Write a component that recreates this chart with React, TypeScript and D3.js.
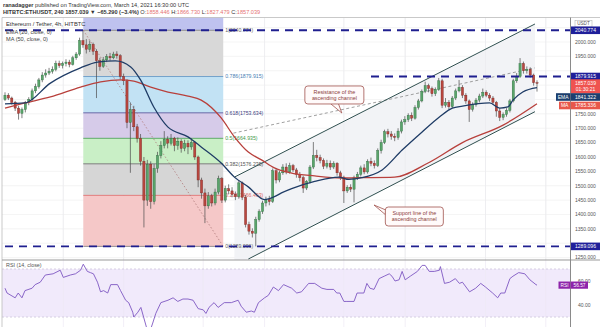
import React from 'react';
import * as d3 from 'd3';

const opens = [
1800,1815,1805,1790,1770,1752,1765,1790,1800,1830,
1845,1868,1885,1892,1898,1905,1925,1918,1925,1930,
1922,1945,1958,2005,1990,1975,1992,1968,1935,1915,
1938,1950,1945,1958,1952,1880,1865,1720,1765,1705,
1665,1585,1450,1575,1445,1560,1605,1640,1662,1648,
1665,1640,1655,1630,1648,1635,1650,1600,1520,1475,
1430,1465,1440,1478,1525,1450,1490,1482,1470,1462,
1510,1460,1365,1342,1335,1382,1410,1440,1452,1445,
1552,1520,1545,1565,1548,1570,1555,1540,1528,1492,
1515,1565,1605,1598,1588,1568,1578,1565,1578,1545,
1530,1482,1495,1488,1528,1540,1562,1548,1585,1578,
1570,1622,1650,1688,1680,1672,1668,1690,1722,1730,
1745,1735,1772,1795,1828,1848,1838,1820,1835,1865,
1780,1790,1775,1805,1830,1842,1815,1795,1765,1782,
1798,1812,1825,1815,1805,1790,1760,1738,1748,1762,
1795,1865,1880,1925,1900,1905,1885,1858.446];
const closes = [
1815,1805,1790,1770,1752,1765,1790,1800,1830,1845,
1868,1885,1892,1898,1905,1925,1918,1925,1930,1922,
1945,1958,2005,1990,1975,1992,1968,1935,1915,1938,
1950,1945,1958,1952,1880,1865,1720,1765,1705,1665,
1585,1450,1575,1445,1560,1605,1640,1662,1648,1665,
1640,1655,1630,1648,1635,1650,1600,1520,1475,1430,
1465,1440,1478,1525,1450,1490,1482,1470,1462,1510,
1460,1365,1342,1335,1382,1410,1440,1452,1445,1552,
1520,1545,1565,1548,1570,1555,1540,1528,1492,1515,
1565,1605,1598,1588,1568,1578,1565,1578,1545,1530,
1482,1495,1488,1528,1540,1562,1548,1585,1578,1570,
1622,1650,1688,1680,1672,1668,1690,1722,1730,1745,
1735,1772,1795,1828,1848,1838,1820,1835,1865,1780,
1790,1775,1805,1830,1842,1815,1795,1765,1782,1798,
1812,1825,1815,1805,1790,1760,1738,1748,1762,1795,
1865,1880,1925,1900,1905,1885,1858.446,1857.039];
const highs = [
1825,1822,1810,1795,1778,1772,1795,1808,1838,1855,
1875,1895,1905,1910,1915,1935,1935,1932,1940,1938,
1952,1965,2015,2040.774,2010,2005,1998,1975,1945,1948,
1958,1962,1966,1968,1958,1890,1870,1790,1778,1715,
1680,1600,1590,1585,1575,1618,1655,1690,1672,1680,
1670,1668,1662,1660,1658,1665,1655,1605,1528,1490,
1478,1472,1490,1535,1530,1500,1505,1495,1480,1520,
1515,1468,1375,1352,1392,1418,1448,1462,1465,1560,
1562,1552,1575,1578,1580,1576,1562,1548,1535,1520,
1572,1652,1625,1608,1595,1590,1588,1585,1582,1552,
1535,1502,1505,1535,1548,1570,1575,1592,1598,1588,
1630,1660,1695,1698,1690,1682,1700,1730,1742,1752,
1755,1780,1802,1835,1862,1855,1845,1842,1875,1872,
1805,1798,1812,1838,1868,1850,1822,1800,1790,1805,
1820,1838,1832,1822,1812,1795,1770,1755,1770,1802,
1872,1892,1944,1932,1915,1912,1890,1866.73];
const lows = [
1795,1798,1782,1760,1730,1735,1755,1780,1792,1822,
1838,1860,1876,1885,1890,1898,1910,1908,1915,1912,
1918,1938,1952,1980,1960,1965,1955,1805,1900,1910,
1930,1935,1940,1942,1870,1850,1700,1545,1690,1650,
1570,1355,1430,1420,1435,1545,1595,1630,1630,1640,
1620,1625,1615,1620,1610,1625,1590,1495,1455,1370,
1420,1428,1432,1470,1440,1442,1470,1460,1450,1455,
1450,1355,1330,1320,1289.096,1375,1402,1428,1432,1440,
1508,1512,1538,1540,1542,1548,1528,1515,1475,1485,
1508,1558,1585,1578,1558,1560,1555,1558,1535,1520,
1440,1475,1478,1442,1520,1532,1540,1542,1568,1560,
1565,1612,1645,1668,1660,1655,1660,1682,1712,1722,
1725,1730,1765,1790,1822,1825,1810,1812,1830,1770,
1772,1765,1770,1798,1825,1805,1785,1722,1758,1775,
1790,1805,1808,1795,1782,1740,1725,1728,1740,1755,
1790,1858,1875,1890,1890,1876,1848,1827.479];

const emaIdx = [0,5.9,13.4,22.3,27.3,32.6,37.1,40,43.9,48.1,54,57.9,63.8,67.7,71.8,76.6,79.5,81.6,84.6,91.4,98.5,101.5,105.3,111.3,117.2,123.1,128.2,132,135,143,146,148.4,149.9,152.8,157];
const emaVal = [1785,1788,1857,1910,1930,1934,1913,1868,1774,1704,1670,1635,1579,1530,1496,1452,1462,1475,1490,1515,1530,1522,1528,1555,1624,1687,1739,1770,1777,1788,1770,1774,1798,1826,1841.322];
const maIdx = [0,5.9,13.4,22.3,28.2,34.1,38,43,48.1,54,57.9,63.8,67.7,71.8,75.7,79.5,84.6,91.4,99.4,105.3,115,125,135,147,157];
const maVal = [1770,1788,1809,1843,1861,1868,1864,1843,1826,1812,1798,1736,1670,1617,1590,1562,1544,1534,1527,1528,1530,1580,1650,1711,1785.336];

const rsiIdx = [0,0.6,3,3.9,5,5.9,8,8.9,10.4,11.9,14.2,16.3,17.2,19.3,20.8,22.3,23.1,24.3,25.2,26.1,27.3,28.2,29.1,30.3,31.2,33.2,34.1,35.6,36.5,37.7,38,39.2,40.1,40.9,42.4,43.6,44.5,46,48.1,49.6,51,52.5,54,55.5,57,58.5,59.3,60.2,61.7,62.9,64.7,66.8,68.8,69.7,71.2,72.7,73.6,74.8,76.6,77.7,79.2,80.7,82.2,84.6,86.1,87.5,89.6,91.4,93.5,95,97,97.9,98.8,100,100.9,103,103.9,105.9,106.8,107.7,108.9,110.4,111.9,113.4,114.2,115.1,116.3,117.2,118.1,119.6,121.7,123.1,124,125.2,126.7,128.2,128.5,129.7,131.2,132.9,134.1,135,137.1,138.9,140.4,141.8,143.9,145.4,146.3,147.5,149,149.9,151.6,153.4,154.9,156.7,157];
const rsiVal = [54,50,46,50,46,52,54,57,59,65,66,69,63,65,66,69,74,68,67,66,59,51,52,50,57,57,52,44,42,34,30,34,38,30,15,25,33,42,44,46,43,45,45,44,37,36,33,38,42,38,42,42,44,39,34,35,34,42,46,48,55,52,57,54,50,51,58,58,54,53,53,50,50,43,43,43,50,50,58,54,53,62,64,66,64,60,61,68,61,64,68,73,73,68,68,69,72,58,59,62,58,59,51,54,58,55,50,46,50,50,62,64,67,66,61,57,56.57];

const priceTicks = [2000,1950,1750,1700,1650,1600,1550,1500,1450,1400,1350,1250];
const gridPrices = [1250,1300,1350,1400,1450,1500,1550,1600,1650,1700,1750,1800,1850,1900,1950,2000,2050];
const timeGridIdx = [17.2,35,58.5,76.6,100,118.1,141.8,159.6];
const fibRatios = ['1','0.786','0.618','0.5','0.382','0.236','0'];
const fibValues = [2040.774,1879.915,1753.634,1664.935,1576.235,1466.493,1289.096];
const fibTop = 2505.3;
const fibStartIdx = 23.1, fibEndIdx = 64.4;
const channelUpper = [[67.7,1530],[156.4,2062.6]];
const channelLower = [[71.8,1245],[156.4,1757.6]];
const channelMid = [[67.4,1683],[156.4,1910]];
const rsiTicks = [60,40];

const FONT = 'Liberation Sans, Arial, sans-serif';

export default function App() {
  const N = opens.length;
  const x = d3.scaleLinear().domain([0, N - 1]).range([5, 537]);
  const y = d3.scaleLinear().domain([1241.7, 2085.2]).range([260, 17.5]);
  const yr = d3.scaleLinear().domain([21.7, 77.5]).range([327, 260]);
  const L = 2, R = 570.5, T = 17.5, B = 260;

  const lineOf = (idx: number[], vals: number[], ys: any) =>
    d3.line<number>().x((_, k) => x(idx[k])).y(d => ys(d)).curve(d3.curveMonotoneX)(vals) || '';

  const fibZoneColors = ['#bfc2ef', '#d8d8d8', '#c2e2f4', '#d6cbe9', '#c9efc6', '#d6d6d6', '#f5c8c8'];
  const fibLineColors = ['#777', '#5b8fc0', '#4b4b95', '#3f9a4a', '#666', '#d66', '#777'];
  const fibLabelColors = ['#666', '#4a7fb5', '#3d3d80', '#3f9a4a', '#555', '#d66', '#666'];
  const zoneBounds = [fibTop, ...fibValues];
  const fx1 = x(fibStartIdx), fx2 = x(fibEndIdx);

  const chU = channelUpper.map(p => [x(p[0]), y(p[1])]);
  const chL = channelLower.map(p => [x(p[0]), y(p[1])]);
  const chM = channelMid.map(p => [x(p[0]), y(p[1])]);
  const slopeL = (chL[1][1] - chL[0][1]) / (chL[1][0] - chL[0][0]);
  const lowerAtLeft = chL[0][1] + slopeL * (chU[0][0] - chL[0][0]);
  const channelPoly = `${chU[0][0]},${chU[0][1]} ${chU[1][0]},${chU[1][1]} ${chL[1][0]},${chL[1][1]} ${chU[0][0]},${lowerAtLeft}`;

  const bw = 2.2;
  const up = '#5aa56b', upS = '#2f6e40', dn = '#b9473f', dnS = '#7a2a27';

  const axisLabel = (val: number, text: string, bg: string, yy?: number) => {
    const cy = yy ?? y(val);
    return (
      <g key={text + bg}>
        <rect x={571} y={cy - 3.8} width={29} height={7.6} fill={bg} />
        <text x={585.5} y={cy + 1.8} fontSize={5} fill="#fff" textAnchor="middle" fontFamily={FONT}>{text}</text>
      </g>
    );
  };

  const callout = (ci: number, cp: number, ti: number, tp: number, w: number, h: number, lines: string[], tail: 'bottom' | 'left') => {
    const cx = x(ci), cy = y(cp), tx = x(ti), ty = y(tp);
    const x0 = cx - w / 2, y0 = cy - h / 2;
    const tailPts = tail === 'bottom'
      ? `${cx - 4},${y0 + h - 0.5} ${cx + 4},${y0 + h - 0.5} ${tx},${ty}`
      : `${x0 + 0.5},${y0 + 3} ${x0 + 0.5},${y0 + 8} ${tx},${ty}`;
    return (
      <g>
        <polygon points={tailPts} fill="#fffafa" stroke="#a0524d" strokeWidth={0.8} />
        <rect x={x0} y={y0} width={w} height={h} rx={3} fill="#fffafa" stroke="#a0524d" strokeWidth={0.8} />
        {lines.map((t, k) => (
          <text key={k} x={cx} y={cy - (lines.length - 1) * 3.1 + k * 6.2 + 1.8} fontSize={5.4} fill="#8b3d3a" textAnchor="middle" fontFamily={FONT}>{t}</text>
        ))}
      </g>
    );
  };

  return (
    <svg width={600} height={327} style={{ position: 'absolute', left: 0, top: 0 }} xmlns="http://www.w3.org/2000/svg">
      <defs>
        <clipPath id="mainClip"><rect x={L} y={T} width={R - L} height={B - T} /></clipPath>
        <clipPath id="rsiClip"><rect x={L} y={B} width={R - L} height={327 - B} /></clipPath>
      </defs>
      <rect x={0} y={0} width={600} height={327} fill="#fff" />

      <text x={3} y={7} fontSize={5.6} fill="#333" fontFamily={FONT}>
        <tspan fontWeight="bold">ranadagger</tspan> published on TradingView.com, March 14, 2021 16:30:00 UTC
      </text>
      <text x={3} y={14.2} fontSize={5.6} fill="#333" fontFamily={FONT}>
        <tspan fontWeight="bold">HITBTC:ETHUSDT, 240  1857.039 ▼ −65.290 (−3.4%)</tspan>
        <tspan> O:</tspan><tspan fill="#e57373">1858.446</tspan>
        <tspan> H:</tspan><tspan fill="#e57373">1866.730</tspan>
        <tspan> L:</tspan><tspan fill="#e57373">1827.479</tspan>
        <tspan> C:</tspan><tspan fill="#e57373">1857.039</tspan>
      </text>

      <g clipPath="url(#mainClip)">
        {gridPrices.map(p => <line key={p} x1={L} x2={R} y1={y(p)} y2={y(p)} stroke="#efefef" strokeWidth={0.7} />)}
        {timeGridIdx.map(t => <line key={t} x1={x(t)} x2={x(t)} y1={T} y2={B} stroke="#efefef" strokeWidth={0.7} />)}

        <polygon points={channelPoly} fill="#f2f3f6" />
        {timeGridIdx.map(t => <line key={'g2' + t} x1={x(t)} x2={x(t)} y1={T} y2={B} stroke="#e9eaee" strokeWidth={0.6} />)}

        {fibValues.map((v, k) => (
          <rect key={'z' + k} x={fx1} width={fx2 - fx1} y={y(zoneBounds[k])} height={y(v) - y(zoneBounds[k])} fill={fibZoneColors[k]} />
        ))}
        {fibValues.map((v, k) => (
          <line key={'fl' + k} x1={fx1} x2={fx2} y1={y(v)} y2={y(v)} stroke={fibLineColors[k]} strokeWidth={0.8} />
        ))}
        {fibValues.map((v, k) => (
          <text key={'ft' + k} x={fx2 + 2} y={y(v) + 1.8} fontSize={5.2} fill={fibLabelColors[k]} fontFamily={FONT}>{`${fibRatios[k]}(${v.toFixed(3)})`}</text>
        ))}
        <line x1={fx1} y1={y(fibValues[0])} x2={fx2} y2={y(fibValues[6])} stroke="#b07b7b" strokeWidth={0.8} strokeDasharray="1.5,2" />

        <line x1={chM[0][0]} y1={chM[0][1]} x2={chM[1][0]} y2={chM[1][1]} stroke="#888" strokeWidth={0.8} strokeDasharray="3,2.5" />
        <line x1={chU[0][0]} y1={chU[0][1]} x2={chU[1][0]} y2={chU[1][1]} stroke="#2f4f4f" strokeWidth={1} />
        <line x1={chL[0][0]} y1={chL[0][1]} x2={chL[1][0]} y2={chL[1][1]} stroke="#2f4f4f" strokeWidth={1} />

        {opens.map((o, i) => {
          const c = closes[i];
          const isUp = c >= o;
          const top = y(Math.max(o, c)), bot = y(Math.min(o, c));
          return (
            <g key={'c' + i}>
              <line x1={x(i)} x2={x(i)} y1={y(highs[i])} y2={y(lows[i])} stroke="#4a4a4a" strokeWidth={0.7} />
              <rect x={x(i) - bw / 2} width={bw} y={top} height={Math.max(0.7, bot - top)} fill={isUp ? up : dn} stroke={isUp ? upS : dnS} strokeWidth={0.4} />
            </g>
          );
        })}

        <path d={lineOf(maIdx, maVal, y)} fill="none" stroke="#b8403c" strokeWidth={1.3} />
        <path d={lineOf(emaIdx, emaVal, y)} fill="none" stroke="#1f3c66" strokeWidth={1.3} />

        <line x1={5} x2={R} y1={y(fibValues[0])} y2={y(fibValues[0])} stroke="#1f1f8f" strokeWidth={1.8} strokeDasharray="8,6" />
        <line x1={5} x2={R} y1={y(fibValues[6])} y2={y(fibValues[6])} stroke="#1f1f8f" strokeWidth={1.8} strokeDasharray="8,6" />
        <line x1={371} x2={R} y1={y(fibValues[1])} y2={y(fibValues[1])} stroke="#1f1f8f" strokeWidth={1.8} strokeDasharray="8,6" />

        {callout(97.2, 1815.7, 99.4, 1753, 59, 18, ['Resistance of the', 'ascending channel'], 'bottom')}
        {callout(120.8, 1393, 108.9, 1433, 58, 19, ['Support line of the', 'ascending channel'], 'left')}

        <text x={6} y={25.5} fontSize={5.8} fill="#333" fontFamily={FONT}>Ethereum / Tether, 4h, HITBTC</text>
        <text x={6} y={33.5} fontSize={5.6} fill="#444" fontFamily={FONT}>EMA (20, close, 0)</text>
        <text x={6} y={41} fontSize={5.6} fill="#444" fontFamily={FONT}>MA (50, close, 0)</text>
      </g>

      <g clipPath="url(#rsiClip)">
        <rect x={L} width={R - L} y={yr(70)} height={yr(30) - yr(70)} fill="#f1eafb" />
        {timeGridIdx.map(t => <line key={'r' + t} x1={x(t)} x2={x(t)} y1={B} y2={327} stroke="#ece8f3" strokeWidth={0.7} />)}
        <line x1={L} x2={R} y1={yr(70)} y2={yr(70)} stroke="#c9bfd9" strokeWidth={0.7} strokeDasharray="2,2" />
        <line x1={L} x2={R} y1={yr(30)} y2={yr(30)} stroke="#c9bfd9" strokeWidth={0.7} strokeDasharray="2,2" />
        <path d={d3.line<number>().x((_, k) => x(rsiIdx[k])).y(d => yr(d))(rsiVal) || ''} fill="none" stroke="#7e57c2" strokeWidth={0.9} />
        <text x={6} y={266.5} fontSize={5.4} fill="#555" fontFamily={FONT}>RSI (14, close)</text>
      </g>

      <line x1={L} x2={600} y1={T} y2={T} stroke="#bbb" strokeWidth={0.8} />
      <line x1={L} x2={L} y1={T} y2={327} stroke="#bbb" strokeWidth={0.8} />
      <line x1={L} x2={600} y1={B} y2={B} stroke="#9a9a9a" strokeWidth={1.2} />
      <line x1={R} x2={R} y1={T} y2={327} stroke="#8a8a8a" strokeWidth={1} />

      {priceTicks.map(p => (
        <text key={'pt' + p} x={575} y={y(p) + 1.8} fontSize={5} fill="#555" fontFamily={FONT}>{p.toFixed(3)}</text>
      ))}
      <rect x={575} y={20.5} width={17} height={6.5} fill="#fff" stroke="#aaa" strokeWidth={0.5} />
      <text x={583.5} y={25.4} fontSize={4.6} fill="#555" textAnchor="middle" fontFamily={FONT}>USDT</text>
      {axisLabel(fibValues[0], '2040.774', '#1f1f9a')}
      {axisLabel(fibValues[1], '1879.915', '#1f1f9a')}
      {axisLabel(closes[N - 1], '1857.039', '#ef5350')}
      {axisLabel(0, '01:30:21', '#ef5350', y(closes[N - 1]) + 6.6)}
      {axisLabel(0, '1841.322', '#1d3f6e', 97)}
      <rect x={556} y={97 - 3.8} width={14.5} height={7.6} fill="#1d3f6e" />
      <text x={563.2} y={98.8} fontSize={5} fill="#fff" textAnchor="middle" fontFamily={FONT}>EMA</text>
      {axisLabel(0, '1785.336', '#e8574a', 105.5)}
      <rect x={559} y={105.5 - 3.8} width={11.5} height={7.6} fill="#e8574a" />
      <text x={564.7} y={107.3} fontSize={5} fill="#fff" textAnchor="middle" fontFamily={FONT}>MA</text>
      {axisLabel(fibValues[6], '1289.096', '#1f1f9a')}

      {rsiTicks.map(v => (
        <text key={'rt' + v} x={578} y={yr(v) + 1.8} fontSize={5} fill="#555" fontFamily={FONT}>{v.toFixed(2)}</text>
      ))}
      <rect x={558.5} y={yr(56.57) - 3.6} width={12} height={7.2} fill="#8e24aa" />
      <text x={564.5} y={yr(56.57) + 1.8} fontSize={4.8} fill="#fff" textAnchor="middle" fontFamily={FONT}>RSI</text>
      <rect x={571} y={yr(56.57) - 3.6} width={17} height={7.2} fill="#8e24aa" />
      <text x={579.5} y={yr(56.57) + 1.8} fontSize={4.8} fill="#fff" textAnchor="middle" fontFamily={FONT}>56.57</text>
    </svg>
  );
}
